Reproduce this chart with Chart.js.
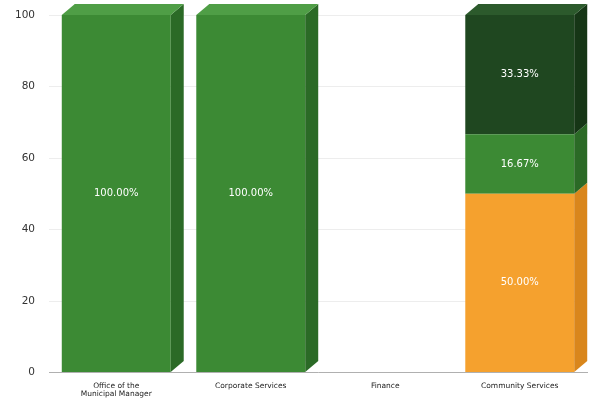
<!DOCTYPE html>
<html>
<head>
<meta charset="utf-8">
<script src="https://cdn.jsdelivr.net/npm/chart.js@4/dist/chart.umd.min.js"></script>
<style>
  html, body { margin: 0; padding: 0; background: #fff; }
  #wrap { width: 590px; height: 405px; }
</style>
</head>
<body>
<div id="wrap"><canvas id="deptChart"></canvas></div>
<script>
const categories = [["Office of the", "Municipal Manager"], "Corporate Services", "Finance", "Community Services"]
const orangeVals = [0, 0, 0, 50.00]
const greenVals = [100.00, 100.00, 0, 16.67]
const darkVals = [0, 0, 0, 33.33]
const yTicks = [0, 20, 40, 60, 80, 100]

// side / top shades for the fake 3D look
const shades = {
    "#f5a12e": { side: "#d9861c", top: "#f8b85a" },
    "#3c8a34": { side: "#2b6a26", top: "#4f9e46" },
    "#1f4720": { side: "#163616", top: "#2c5a2c" },
}

const depthX = 13
const depthY = 11

const bar3d = {
    id: "bar3d",
    afterDatasetsDraw(chart) {
        const ctx = chart.ctx
        const n = chart.data.labels.length
        for (let i = 0; i < n; i++) {
            let topIdx = -1
            chart.data.datasets.forEach((ds, d) => {
                if (ds.data[i] > 0) topIdx = d
            })
            chart.data.datasets.forEach((ds, d) => {
                if (!(ds.data[i] > 0)) return
                const el = chart.getDatasetMeta(d).data[i]
                const right = el.x + el.width / 2
                const left = el.x - el.width / 2
                const top = Math.min(el.y, el.base)
                const bottom = Math.max(el.y, el.base)
                const sh = shades[ds.backgroundColor]
                ctx.save()
                ctx.fillStyle = sh.side
                ctx.beginPath()
                ctx.moveTo(right, top)
                ctx.lineTo(right + depthX, top - depthY)
                ctx.lineTo(right + depthX, bottom - depthY)
                ctx.lineTo(right, bottom)
                ctx.closePath()
                ctx.fill()
                if (d === topIdx) {
                    ctx.fillStyle = sh.top
                    ctx.beginPath()
                    ctx.moveTo(left, top)
                    ctx.lineTo(left + depthX, top - depthY)
                    ctx.lineTo(right + depthX, top - depthY)
                    ctx.lineTo(right, top)
                    ctx.closePath()
                    ctx.fill()
                }
                // value label
                ctx.fillStyle = "#ffffff"
                ctx.font = "10px 'DejaVu Sans', Verdana, sans-serif"
                ctx.textAlign = "center"
                ctx.textBaseline = "middle"
                ctx.fillText(ds.data[i].toFixed(2) + "%", el.x, (top + bottom) / 2)
                ctx.restore()
            })
        }
    },
}

const chart = new Chart(document.getElementById("deptChart").getContext("2d"), {
    type: "bar",
    data: {
        labels: categories,
        datasets: [
            { label: "A", data: orangeVals, backgroundColor: "#f5a12e" },
            { label: "B", data: greenVals, backgroundColor: "#3c8a34" },
            { label: "C", data: darkVals, backgroundColor: "#1f4720" },
        ],
    },
    options: {
        responsive: true,
        maintainAspectRatio: false,
        animation: false,
        layout: { padding: { top: 15, right: 3, left: 0, bottom: 6 } },
        datasets: {
            bar: { categoryPercentage: 0.81, barPercentage: 1, borderWidth: 0 },
        },
        plugins: {
            legend: { display: false },
            tooltip: { enabled: false },
        },
        scales: {
            x: {
                stacked: true,
                grid: { display: false },
                border: { color: "#b0b0b0" },
                ticks: {
                    color: "#222",
                    font: { family: "'DejaVu Sans', Verdana, sans-serif", size: 7.5, lineHeight: 1.1 },
                    padding: 1,
                    maxRotation: 0,
                },
            },
            y: {
                stacked: true,
                min: 0,
                max: 100,
                afterFit: (scale) => {
                    scale.width = 49
                    scale.paddingTop = 0
                    scale.paddingBottom = 0
                },
                afterBuildTicks: (scale) => { scale.ticks = yTicks.map((v) => ({ value: v })) },
                grid: { color: "#ededed", drawTicks: false },
                border: { display: false },
                ticks: {
                    color: "#333",
                    padding: 14,
                    font: { family: "'DejaVu Sans', Verdana, sans-serif", size: 10.5 },
                },
            },
        },
    },
    plugins: [bar3d],
})
</script>
</body>
</html>
